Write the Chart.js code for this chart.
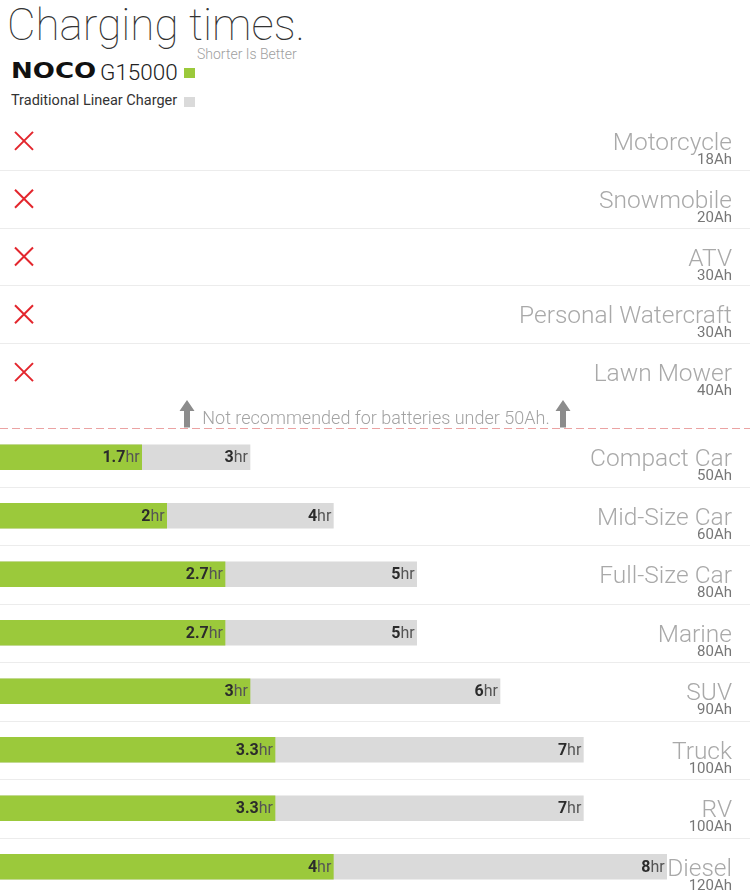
<!DOCTYPE html>
<html>
<head>
<meta charset="utf-8">
<script src="https://cdn.jsdelivr.net/npm/chart.js@4.4.0/dist/chart.umd.min.js"></script>
<style>
    body { margin: 0; background: #fff; font-family: Roboto, sans-serif; }
    #wrap { position: relative; width: 750px; height: 896px; overflow: hidden; }
    .title { position: absolute; left: 7px; top: 3px; font-size: 44px; line-height: 1; font-weight: 100; color: #333; white-space: nowrap; }
    .sub { position: absolute; left: 197px; top: 47px; font-size: 14px; line-height: 1; font-weight: 300; color: #a0a0a0; }
    .noco { position: absolute; left: 11px; top: 61px; font-family: 'DejaVu Sans', sans-serif; font-weight: bold; font-size: 21px; line-height: 1; color: #111; transform: scaleX(1.24); transform-origin: left top; }
    .model { position: absolute; left: 100px; top: 61px; font-size: 22.5px; line-height: 1; font-weight: 300; color: #222; }
    .trad { position: absolute; left: 11px; top: 94px; font-size: 14.5px; line-height: 1; color: #333; }
    .sw { position: absolute; left: 184px; width: 11px; height: 10px; }
    canvas { position: absolute; left: 0; }
    #topChart { top: 112px; }
    #barChart { top: 428px; }
</style>
</head>
<body>
<div id="wrap">
    <div class="title">Charging times.</div>
    <div class="sub">Shorter Is Better</div>
    <div class="noco">NOCO</div>
    <div class="model">G15000</div>
    <div class="sw" style="top:68px;background:#9bc93b"></div>
    <div class="trad">Traditional Linear Charger</div>
    <div class="sw" style="top:97px;background:#dadada"></div>
    <canvas id="topChart" width="750" height="318"></canvas>
    <canvas id="barChart" width="750" height="468"></canvas>
</div>
<script>
// Data
const vehicles = ['Motorcycle', 'Snowmobile', 'ATV', 'Personal Watercraft', 'Lawn Mower',
    'Compact Car', 'Mid-Size Car', 'Full-Size Car', 'Marine', 'SUV', 'Truck', 'RV', 'Diesel'];
const capacityAh = [18, 20, 30, 30, 40, 50, 60, 80, 80, 90, 100, 100, 120];
const nocoHours = [null, null, null, null, null, 1.7, 2, 2.7, 2.7, 3, 3.3, 3.3, 4];
const linearHours = [null, null, null, null, null, 3, 4, 5, 5, 6, 7, 7, 8];
const minAh = 50;
const hourMax = 9;

// Shared styling
const green = '#9bc93b';
const grey = '#dadada';
const fontFam = "Roboto, 'Liberation Sans', sans-serif";

const topIdx = capacityAh.map((c, i) => i).filter(i => capacityAh[i] < minAh);
const barIdx = capacityAh.map((c, i) => i).filter(i => capacityAh[i] >= minAh);
const pick = (arr, idx) => idx.map(i => arr[i]);

// separators + right hand labels
const rowDecor = {
    id: 'rowDecor',
    beforeDatasetsDraw(chart, args, opts) {
        const ctx = chart.ctx;
        const y = chart.scales.y;
        const n = chart.data.labels.length;
        ctx.save();
        ctx.strokeStyle = '#ececec';
        ctx.lineWidth = 1;
        for (let i = 0; i < n - 1; i++) {
            const yy = Math.round((y.getPixelForValue(i) + y.getPixelForValue(i + 1)) / 2) + 0.5;
            ctx.beginPath();
            ctx.moveTo(0, yy);
            ctx.lineTo(chart.width, yy);
            ctx.stroke();
        }
        ctx.restore();
    },
    afterDatasetsDraw(chart, args, opts) {
        const ctx = chart.ctx;
        const y = chart.scales.y;
        ctx.save();
        ctx.textAlign = 'right';
        ctx.textBaseline = 'alphabetic';
        chart.data.labels.forEach((lab, i) => {
            const cy = y.getPixelForValue(i);
            ctx.font = '300 24.5px ' + fontFam;
            ctx.fillStyle = '#a9a9a9';
            ctx.fillText(lab, 732, cy + 9);
            ctx.font = '15px ' + fontFam;
            ctx.fillStyle = '#777';
            ctx.fillText(opts.capacity[i] + 'Ah', 732, cy + 23);
        });
        ctx.restore();
    }
};

// red crosses, note and dashed cut-off line for the top block
const notRecommended = {
    id: 'notRecommended',
    afterDatasetsDraw(chart) {
        const ctx = chart.ctx;
        const y = chart.scales.y;
        const area = chart.chartArea;
        ctx.save();
        ctx.strokeStyle = '#e3262d';
        ctx.lineWidth = 2;
        chart.data.labels.forEach((lab, i) => {
            const cy = y.getPixelForValue(i);
            ctx.beginPath();
            ctx.moveTo(15, cy - 9); ctx.lineTo(33, cy + 9);
            ctx.moveTo(33, cy - 9); ctx.lineTo(15, cy + 9);
            ctx.stroke();
        });

        const base = chart.height - 1.5;
        ctx.strokeStyle = '#eba3a3';
        ctx.lineWidth = 1;
        ctx.setLineDash([8, 4]);
        ctx.beginPath();
        ctx.moveTo(0, base);
        ctx.lineTo(chart.width, base);
        ctx.stroke();
        ctx.setLineDash([]);

        ctx.font = '300 18px ' + fontFam;
        ctx.fillStyle = '#a3a3a3';
        ctx.textAlign = 'center';
        ctx.fillText('Not recommended for batteries under ' + minAh + 'Ah.', 376, area.bottom + 23);

        ctx.fillStyle = '#8c8c8c';
        [187, 563].forEach(ax => {
            const top = area.bottom - 1;
            ctx.beginPath();
            ctx.moveTo(ax, top);
            ctx.lineTo(ax + 7.5, top + 11);
            ctx.lineTo(ax + 3, top + 11);
            ctx.lineTo(ax + 3, base - 1);
            ctx.lineTo(ax - 3, base - 1);
            ctx.lineTo(ax - 3, top + 11);
            ctx.lineTo(ax - 7.5, top + 11);
            ctx.closePath();
            ctx.fill();
        });
        ctx.restore();
    }
};

// "1.7hr" labels at the end of each bar
const hrLabels = {
    id: 'hrLabels',
    afterDatasetsDraw(chart) {
        const ctx = chart.ctx;
        ctx.save();
        ctx.textAlign = 'right';
        ctx.textBaseline = 'middle';
        chart.data.datasets.forEach((ds, di) => {
            const meta = chart.getDatasetMeta(di);
            meta.data.forEach((bar, i) => {
                const v = ds.data[i];
                if (v == null) return;
                const end = bar.x - 2;
                ctx.font = '16px ' + fontFam;
                ctx.fillStyle = '#555';
                ctx.fillText('hr', end, bar.y + 1);
                const w = ctx.measureText('hr').width;
                ctx.font = 'bold 16px ' + fontFam;
                ctx.fillStyle = '#2b2b2b';
                ctx.fillText(String(v), end - w, bar.y + 1);
            });
        });
        ctx.restore();
    }
};

const baseOptions = (capacity, padBottom) => ({
    indexAxis: 'y',
    responsive: false,
    animation: false,
    layout: { padding: { top: 0, bottom: padBottom, left: 0, right: 0 } },
    plugins: {
        legend: { display: false },
        tooltip: { enabled: false },
        rowDecor: { capacity: capacity }
    },
    scales: {
        x: { display: false, min: 0, max: hourMax },
        y: { display: false }
    }
});

new Chart(document.getElementById('topChart'), {
    type: 'bar',
    data: {
        labels: pick(vehicles, topIdx),
        datasets: [{ data: pick(nocoHours, topIdx) }]
    },
    options: baseOptions(pick(capacityAh, topIdx), 29),
    plugins: [rowDecor, notRecommended]
});

new Chart(document.getElementById('barChart'), {
    type: 'bar',
    data: {
        labels: pick(vehicles, barIdx),
        datasets: [{
            label: 'NOCO G15000',
            data: pick(nocoHours, barIdx),
            backgroundColor: green,
            barThickness: 25,
            grouped: false,
            borderWidth: 0
        }, {
            label: 'Traditional Linear Charger',
            data: pick(linearHours, barIdx),
            backgroundColor: grey,
            barThickness: 25,
            grouped: false,
            borderWidth: 0
        }]
    },
    options: baseOptions(pick(capacityAh, barIdx), 0),
    plugins: [rowDecor, hrLabels]
});
</script>
</body>
</html>
